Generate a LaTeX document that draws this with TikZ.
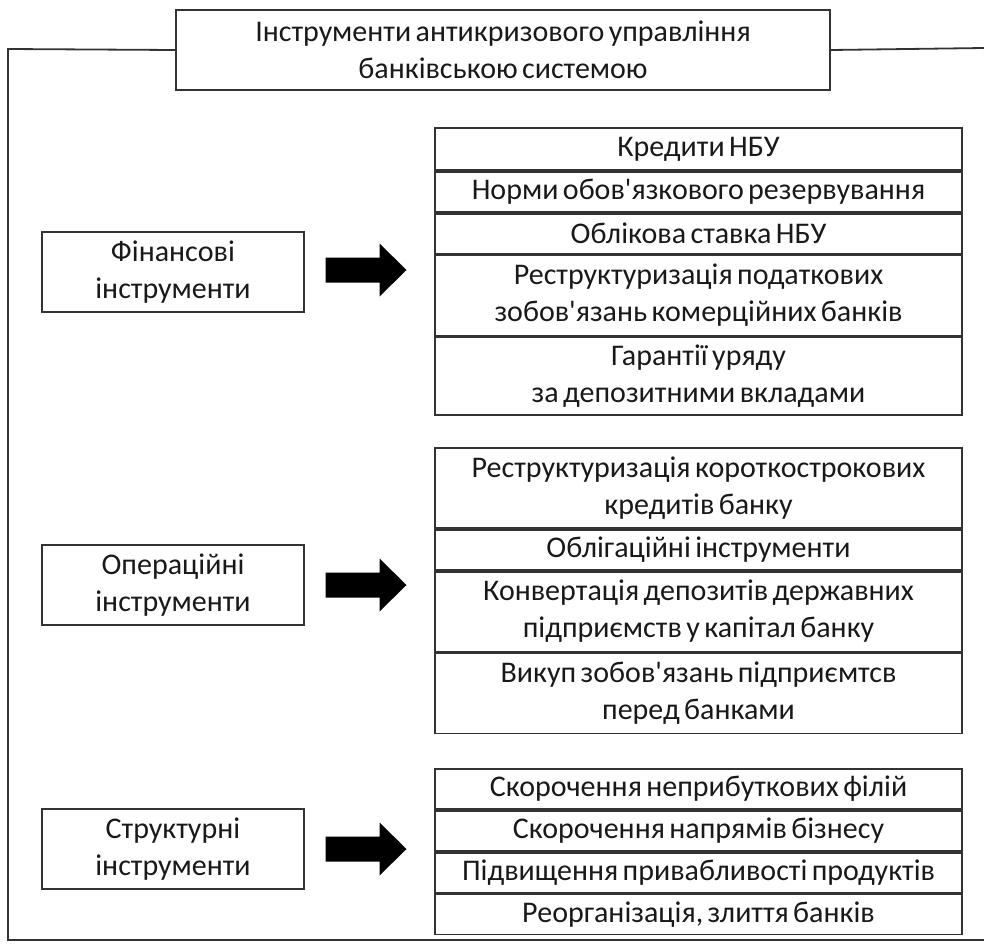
\documentclass[tikz,border=0pt]{standalone}
\usepackage{fontspec}
\setmainfont{Carlito}[Ligatures=TeXOff, WordSpace=0.65]
\usetikzlibrary{positioning,calc}
\begin{document}
\begin{tikzpicture}[x=1pt,y=-1pt,
  ln/.style={line width=1.8pt, draw=black!80},
  box/.style={ln, rectangle, inner sep=0pt, align=center, text=black!90,
              font=\fontsize{30}{37}\selectfont},
  cell/.style={box, minimum width=527pt},
  lbox/.style={box, minimum width=262pt, minimum height=80pt},
  bigarrow/.pic={\fill[black] (-41,-12.5) -- (13,-12.5) -- (13,-26.5) -- (40,0)
                 -- (13,26.5) -- (13,12.5) -- (-41,12.5) -- cycle;}]
\useasboundingbox (0,0) rectangle (984,945);

% title and frame
\node[box, minimum width=654pt, minimum height=80pt] (title) at (503,50)
  {Інструменти антикризового управління\\банківською системою};
\coordinate (tl) at (8,49);
\coordinate (bl) at (8,940);
\coordinate (br) at (984,940);
\coordinate (tr) at (984,48);
\draw[ln] (title.west) -- (tl) -- (bl) -- (br);
\draw[ln] (title.east) -- (tr);

% financial group
\node[cell, minimum height=42pt] (f1) at (698.5,149) {Кредити НБУ};
\node[cell, minimum height=40pt, below=0pt of f1] (f2) {Норми обов'язкового резервування};
\node[cell, minimum height=40pt, below=0pt of f2] (f3) {Облікова ставка НБУ};
\node[cell, minimum height=80pt, below=0pt of f3] (f4) {Реструктуризація податкових\\зобов'язань комерційних банків};
\node[cell, minimum height=78pt, below=0pt of f4] (f5) {Гарантії уряду\\за депозитними вкладами};
\node[lbox] (fin) at (173,272) {Фінансові\\інструменти};

% operational group
\node[cell, minimum height=80pt] (o1) at (698.5,488) {Реструктуризація короткострокових\\кредитів банку};
\node[cell, minimum height=40pt, below=0pt of o1] (o2) {Облігаційні інструменти};
\node[cell, minimum height=80pt, below=0pt of o2] (o3) {Конвертація депозитів державних\\підприємств у капітал банку};
\node[cell, minimum height=80pt, below=0pt of o3] (o4) {Викуп зобов'язань підприємтсв\\перед банками};
\node[lbox] (ops) at (173,585) {Операційні\\інструменти};

% structural group
\node[cell, minimum height=40pt] (s1) at (698.5,789) {Скорочення неприбуткових філій};
\node[cell, minimum height=40pt, below=0pt of s1] (s2) {Скорочення напрямів бізнесу};
\node[cell, minimum height=40pt, below=0pt of s2] (s3) {Підвищення привабливості продуктів};
\node[cell, minimum height=40pt, below=0pt of s3] (s4) {Реорганізація, злиття банків};
\node[lbox] (str) at (173,849) {Структурні\\інструменти};

% arrows
\pic at ($(fin.east)!0.5!(fin.east -| f1.west) + (-3,-2)$) {bigarrow};
\pic at ($(ops.east)!0.5!(ops.east -| o1.west) + (-3,0)$) {bigarrow};
\pic at ($(str.east)!0.5!(str.east -| s1.west) + (-3,0)$) {bigarrow};
\end{tikzpicture}
\end{document}
